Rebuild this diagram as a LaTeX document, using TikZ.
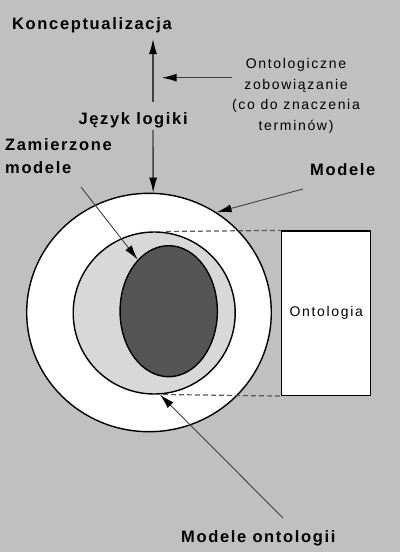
\documentclass[tikz,border=0pt]{standalone}
\usepackage{fontspec}
\newfontfamily\labfont{Liberation Sans}[LetterSpace=12]
\newfontfamily\headfont{Liberation Sans}[LetterSpace=10]
\usetikzlibrary{arrows.meta,shapes.geometric}
\definecolor{bgcol}{HTML}{C0C0C0}
\definecolor{midcol}{HTML}{D8D8D8}
\definecolor{darkcol}{HTML}{555555}
\begin{document}
\begin{tikzpicture}[x=1pt,y=-1pt,line join=round,
	head/.style={font={\headfont\bfseries\fontsize{16.5}{23}\selectfont},inner sep=0pt,anchor=base west},
	plain/.style={font={\labfont\fontsize{14}{20.7}\selectfont},inner sep=0pt},
	ring/.style={ellipse,draw=black,line width=1.4pt,inner sep=0pt},
	arr/.style={-{Latex[length=15pt,width=8pt,color=black]},draw=black!75,line width=0.9pt},
	thickarr/.style={arr,line width=1.4pt},
	guide/.style={draw=black!65,dash pattern=on 5pt off 3pt,line width=1.2pt}]
	\fill[bgcol] (0,0) rectangle (400,552);
	% kola modeli
	\node[ring,fill=white,minimum width=244.6pt,minimum height=238.4pt] (outer) at (149,312.5) {};
	\node[ring,fill=midcol,minimum width=162pt,minimum height=162pt] (mid) at (154.2,313) {};
	\node[ring,fill=darkcol,minimum width=97.3pt,minimum height=131pt] (inner) at (168.7,311.2) {};
	% ontologia
	\node[draw=black,line width=1.4pt,fill=white,minimum width=89pt,minimum height=164.3pt,
		font={\labfont\fontsize{14}{17}\selectfont}] (onto) at (326.2,313.2) {Ontologia};
	\coordinate (gtop) at (166,231.5);
	\coordinate (gbot) at (163,394.5);
	\draw[guide] (gtop) -- (onto.north west);
	\draw[guide] (gbot) -- (onto.south west);
	% napisy
	\node[head] (concept) at (12,29.3) {Konceptualizacja};
	\node[head] (logic) at (78.3,124.3) {Język logiki};
	\node[head,align=left] (intended) at (5,173) {Zamierzone\\modele};
	\node[head] (models) at (310,175) {Modele};
	\node[head] (ontmodels) at (181,542.7) {Modele ontologii};
	\node[plain,align=center,anchor=north] (commit) at (296,58) {Ontologiczne\\zobowiązanie\\(co do znaczenia\\terminów)};
	% strzalki
	\coordinate (ctip) at (153,39);
	\coordinate (ltop) at (153,101.7);
	\coordinate (lbot) at (153,130);
	\coordinate (hit) at (161.7,77.7);
	\coordinate (mstart) at (303,189);
	\coordinate (istart) at (81,187);
	\coordinate (ostart) at (283,518);
	\draw[thickarr] (ltop) -- (ctip);
	\draw[thickarr] (lbot) -- (outer.88);
	\draw[thickarr] (commit.west |- hit) -- (hit);
	\draw[arr] (mstart) -- (outer.56);
	\draw[arr] (istart) -- (inner.121);
	\draw[arr] (ostart) -- (mid.-86);
\end{tikzpicture}
\end{document}
